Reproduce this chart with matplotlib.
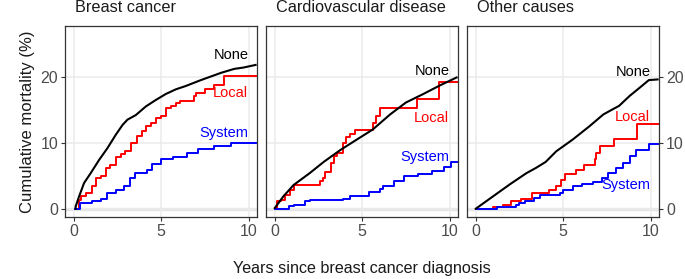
import matplotlib.pyplot as plt

plt.rcParams['font.family'] = ['Liberation Sans', 'DejaVu Sans']

panel_titles = ['Breast cancer', 'Cardiovascular disease', 'Other causes']

# Breast cancer
bc_none_t = [0.1, 0.11, 0.31, 0.59, 0.97, 1.45, 1.93, 2.4, 2.79, 3.07, 3.55, 4.12, 4.7, 5.27,
             5.84, 6.4, 7.27, 7.9, 8.42, 9.18, 9.7, 10.4]
bc_none_y = [0.0, 0.35, 1.9, 3.9, 5.4, 7.4, 9.2, 11.2, 12.7, 13.5, 14.2, 15.5, 16.5, 17.4,
             18.1, 18.6, 19.5, 20.1, 20.6, 21.2, 21.4, 21.8]
bc_local_t = [0.15, 0.3, 0.4, 0.69, 1.07, 1.26, 1.55, 1.83, 2.1, 2.4, 2.7, 2.95, 3.26, 3.6, 3.9,
              4.12, 4.4, 4.7, 5.0, 5.27, 5.55, 5.84, 6.1, 6.9, 7.0, 7.5, 8.04, 8.6, 10.45]
bc_local_y = [0.0, 1.4, 1.9, 2.4, 3.4, 4.6, 5.0, 6.2, 6.6, 7.9, 8.3, 8.8, 10.0, 11.0, 11.8,
              12.5, 13.0, 13.7, 14.1, 15.3, 15.6, 16.0, 16.3, 17.1, 17.6, 18.1, 18.8, 20.15, 20.15]
bc_sys_t = [0.1, 0.35, 1.07, 1.55, 1.9, 2.4, 2.9, 3.2, 3.5, 4.2, 4.5, 5.0, 5.7, 6.5, 7.1, 8.0, 9.0, 10.45]
bc_sys_y = [0.0, 0.8, 1.1, 1.5, 2.4, 2.8, 3.4, 4.7, 5.4, 5.9, 6.8, 7.6, 7.9, 8.4, 9.1, 9.5, 9.9, 9.9]

# Cardiovascular disease
cvd_none_t = [0.0, 0.5, 1.08, 2.0, 2.8, 3.75, 4.7, 5.6, 6.6, 7.5, 8.5, 9.45, 10.4]
cvd_none_y = [0.1, 1.9, 3.6, 5.4, 7.1, 8.9, 10.5, 12.0, 14.3, 16.1, 17.4, 18.7, 19.9]
cvd_local_t = [0.05, 0.15, 0.35, 0.6, 0.9, 1.08, 2.57, 2.75, 2.9, 3.2, 3.4, 3.55, 3.9, 4.1, 4.3,
               4.6, 5.6, 5.8, 6.0, 8.15, 9.4, 10.45]
cvd_local_y = [0.0, 1.1, 1.4, 2.1, 2.9, 3.6, 4.2, 4.7, 5.6, 7.0, 8.0, 8.4, 10.0, 10.8, 11.3,
               11.9, 13.0, 14.1, 15.2, 16.6, 19.2, 19.2]
cvd_sys_t = [0.0, 0.8, 1.08, 1.75, 2.0, 3.9, 4.3, 5.4, 6.0, 6.2, 6.8, 7.4, 8.2, 9.0, 9.7, 10.1, 10.45]
cvd_sys_y = [0.0, 0.35, 0.6, 1.1, 1.3, 1.5, 1.9, 2.6, 3.0, 3.4, 4.2, 4.9, 5.2, 5.7, 6.4, 7.1, 7.1]

# Other causes
oth_none_t = [0.0, 1.0, 1.95, 2.9, 3.45, 4.0, 4.6, 5.55, 6.5, 7.3, 7.85, 8.2, 8.8, 9.4, 9.9, 10.4]
oth_none_y = [0.0, 1.9, 3.7, 5.4, 6.2, 7.1, 8.7, 10.5, 12.5, 14.3, 15.1, 15.6, 17.1, 18.4, 19.5, 19.6]
oth_local_t = [0.0, 1.0, 1.55, 2.0, 2.6, 3.2, 4.2, 4.6, 4.9, 5.1, 5.75, 6.2, 6.8, 6.9, 7.1, 7.9, 9.2, 10.45]
oth_local_y = [0.0, 0.25, 0.5, 1.1, 1.5, 2.4, 2.9, 3.4, 4.4, 5.3, 5.8, 6.6, 7.6, 8.4, 9.5, 10.5, 12.8, 12.8]
oth_sys_t = [0.0, 1.2, 2.3, 2.5, 2.8, 3.35, 3.65, 4.8, 5.0, 5.55, 6.1, 6.7, 7.2, 7.55, 8.0, 8.4,
             8.8, 9.15, 9.9, 10.45]
oth_sys_y = [0.0, 0.3, 0.6, 0.9, 1.1, 1.6, 2.1, 2.4, 2.9, 3.4, 3.8, 4.0, 4.7, 5.4, 6.2, 7.0,
             8.0, 8.9, 9.8, 9.8]

curves = [
    [(bc_none_t, bc_none_y), (bc_local_t, bc_local_y), (bc_sys_t, bc_sys_y)],
    [(cvd_none_t, cvd_none_y), (cvd_local_t, cvd_local_y), (cvd_sys_t, cvd_sys_y)],
    [(oth_none_t, oth_none_y), (oth_local_t, oth_local_y), (oth_sys_t, oth_sys_y)],
]
group_names = ['None', 'Local', 'System']
group_colors = ['black', '#FF0000', '#0000FF']
# label y positions per panel (right-aligned at x = 10)
label_y = [
    [23.3, 17.6, 11.5],
    [20.9, 13.8, 7.9],
    [20.8, 13.9, 3.6],
]

fig = plt.figure(figsize=(6.85, 2.79), dpi=100)
lefts = [65 / 685, 266 / 685, 467 / 685]
w = 192 / 685
bottom = 1 - 217 / 279
h = (217 - 26) / 279
axes = []
for i in range(3):
    ax = fig.add_axes([lefts[i], bottom, w, h])
    axes.append(ax)
    ax.set_xlim(-0.5, 10.48)
    ax.set_ylim(-1.25, 27.7)
    ax.set_xticks([0, 5, 10])
    ax.set_yticks([0, 10, 20])
    ax.grid(True, color='#EBEBEB', lw=1.1)
    ax.axhline(0, color='#E3E3E3', lw=2.4, zorder=0.5)
    ax.set_axisbelow(True)
    for s in ax.spines.values():
        s.set_color('#333333')
        s.set_linewidth(0.9)
    ax.tick_params(colors='#333333', labelcolor='#4D4D4D', labelsize=11.5, length=3, width=0.8, pad=2)
    for j, (t, y) in enumerate(curves[i]):
        if j == 0:
            ax.plot(t, y, color=group_colors[j], lw=1.5, zorder=3)
        else:
            ax.step(t, y, where='post', color=group_colors[j], lw=1.4, zorder=2)
        ax.text(9.98, label_y[i][j], group_names[j], color=group_colors[j], fontsize=10.5,
                ha='right', va='center', zorder=4)
    ax.text(0.05, 1.06, panel_titles[i], transform=ax.transAxes, fontsize=11.7,
            color='#1A1A1A', ha='left', va='bottom')

axes[1].tick_params(axis='y', labelleft=False, left=False)
axes[2].yaxis.tick_right()
axes[2].tick_params(axis='y', labelsize=11.5, colors='#333333', labelcolor='#4D4D4D', length=3, pad=2)
axes[0].set_ylabel('Cumulative mortality (%)', fontsize=12, color='#1A1A1A', labelpad=4)
fig.text(362 / 685, 1 - 268 / 279, 'Years since breast cancer diagnosis', ha='center', va='center',
         fontsize=11.6, color='#1A1A1A')

fig.savefig('out.png', dpi=100)
